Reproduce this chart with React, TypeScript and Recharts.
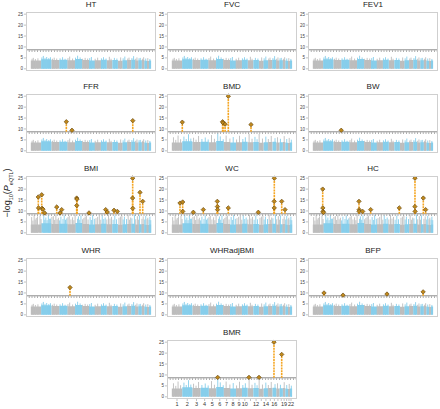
import React from "react";
import { Area, ComposedChart, ReferenceLine, Scatter, XAxis, YAxis } from "recharts";

type Hit = { pos: number; p: number };

// genome layout (Mb)
const chromosomes = ["1", "2", "3", "4", "5", "6", "7", "8", "9", "10", "11", "12", "13", "14", "15", "16", "17", "18", "19", "20", "21", "22"];
const chromLengthsMb = [249, 243, 198, 191, 181, 171, 159, 146, 141, 136, 135, 134, 115, 107, 103, 90, 81, 78, 59, 63, 48, 51];
const chromBase = [3.8, 4.4, 4.0, 4.1, 3.9, 4.5, 4.0, 3.8, 3.9, 4.1, 3.9, 4.0, 3.7, 3.9, 4.0, 4.2, 3.8, 3.9, 4.0, 3.7, 3.6, 3.8];
const xTickLabels = ["1", "2", "3", "4", "5", "6", "7", "8", "9", "10", "12", "14", "16", "19", "22"];
const yTicks = [0, 5, 10, 15, 20, 25];

// background spikes
const quietSpikes: Hit[] = [
  { pos: 30, p: 4.6 }, { pos: 60, p: 5.0 }, { pos: 110, p: 4.5 }, { pos: 170, p: 4.8 },
  { pos: 265, p: 5.2 }, { pos: 300, p: 5.9 }, { pos: 340, p: 5.0 }, { pos: 380, p: 5.4 },
  { pos: 430, p: 4.9 }, { pos: 470, p: 5.3 }, { pos: 520, p: 4.6 }, { pos: 560, p: 5.1 },
  { pos: 620, p: 4.7 }, { pos: 700, p: 4.8 }, { pos: 760, p: 5.3 }, { pos: 820, p: 4.6 },
  { pos: 890, p: 4.9 }, { pos: 930, p: 5.6 }, { pos: 1000, p: 4.7 }, { pos: 1070, p: 5.1 },
  { pos: 1120, p: 6.0 }, { pos: 1180, p: 5.2 }, { pos: 1240, p: 4.6 }, { pos: 1300, p: 5.0 },
  { pos: 1360, p: 4.7 }, { pos: 1410, p: 4.9 }, { pos: 1450, p: 5.4 }, { pos: 1540, p: 4.6 },
  { pos: 1600, p: 5.1 }, { pos: 1690, p: 4.8 }, { pos: 1740, p: 5.3 }, { pos: 1800, p: 4.7 },
  { pos: 1880, p: 5.5 }, { pos: 1920, p: 4.6 }, { pos: 2000, p: 5.0 }, { pos: 2060, p: 4.7 },
  { pos: 2150, p: 5.2 }, { pos: 2210, p: 4.8 }, { pos: 2250, p: 5.6 }, { pos: 2320, p: 4.7 },
  { pos: 2350, p: 5.1 }, { pos: 2420, p: 4.9 }, { pos: 2460, p: 5.8 }, { pos: 2510, p: 4.6 },
  { pos: 2540, p: 5.2 }, { pos: 2590, p: 4.8 }, { pos: 2620, p: 5.0 }, { pos: 2670, p: 4.6 },
  { pos: 2700, p: 5.3 }, { pos: 2750, p: 4.7 }, { pos: 2800, p: 4.9 }, { pos: 2850, p: 4.5 },
];
const midSpikes: Hit[] = [
  { pos: 40, p: 6.2 }, { pos: 95, p: 5.0 }, { pos: 150, p: 7.0 }, { pos: 210, p: 5.3 },
  { pos: 290, p: 6.5 }, { pos: 345, p: 5.4 }, { pos: 400, p: 7.6 }, { pos: 455, p: 5.6 },
  { pos: 520, p: 6.0 }, { pos: 580, p: 5.1 }, { pos: 640, p: 6.8 }, { pos: 720, p: 5.4 },
  { pos: 800, p: 6.1 }, { pos: 870, p: 5.2 }, { pos: 950, p: 7.2 }, { pos: 1020, p: 5.5 },
  { pos: 1100, p: 8.0 }, { pos: 1160, p: 6.6 }, { pos: 1230, p: 5.3 }, { pos: 1300, p: 7.0 },
  { pos: 1390, p: 5.6 }, { pos: 1470, p: 6.3 }, { pos: 1550, p: 5.2 }, { pos: 1620, p: 6.9 },
  { pos: 1700, p: 5.4 }, { pos: 1760, p: 6.2 }, { pos: 1850, p: 7.8 }, { pos: 1920, p: 5.5 },
  { pos: 1990, p: 6.4 }, { pos: 2040, p: 5.3 }, { pos: 2090, p: 7.7 }, { pos: 2170, p: 5.6 },
  { pos: 2250, p: 6.5 }, { pos: 2310, p: 5.4 }, { pos: 2380, p: 6.8 }, { pos: 2470, p: 5.8 },
  { pos: 2530, p: 6.2 }, { pos: 2600, p: 5.5 }, { pos: 2690, p: 6.7 }, { pos: 2750, p: 5.4 },
  { pos: 2810, p: 5.9 }, { pos: 2860, p: 5.1 },
];
const obesitySpikes: Hit[] = [
  { pos: 20, p: 7.2 }, { pos: 50, p: 5.6 }, { pos: 80, p: 8.1 }, { pos: 105, p: 6.1 },
  { pos: 130, p: 6.8 }, { pos: 160, p: 7.5 }, { pos: 220, p: 7.9 }, { pos: 245, p: 6.3 },
  { pos: 310, p: 8.2 }, { pos: 335, p: 6.0 }, { pos: 360, p: 7.0 }, { pos: 390, p: 5.8 },
  { pos: 420, p: 8.0 }, { pos: 445, p: 6.4 }, { pos: 470, p: 6.5 }, { pos: 505, p: 7.3 },
  { pos: 540, p: 7.6 }, { pos: 570, p: 5.9 }, { pos: 600, p: 8.1 }, { pos: 630, p: 6.2 },
  { pos: 660, p: 6.9 }, { pos: 690, p: 5.7 }, { pos: 720, p: 7.4 }, { pos: 770, p: 6.3 },
  { pos: 800, p: 8.0 }, { pos: 830, p: 6.0 }, { pos: 860, p: 6.6 }, { pos: 890, p: 7.2 },
  { pos: 920, p: 7.8 }, { pos: 960, p: 6.1 }, { pos: 1000, p: 7.1 }, { pos: 1030, p: 5.8 },
  { pos: 1060, p: 8.2 }, { pos: 1120, p: 6.4 }, { pos: 1140, p: 7.5 }, { pos: 1170, p: 6.0 },
  { pos: 1200, p: 8.0 }, { pos: 1240, p: 6.2 }, { pos: 1270, p: 6.8 }, { pos: 1300, p: 7.4 },
  { pos: 1330, p: 7.9 }, { pos: 1370, p: 6.1 }, { pos: 1420, p: 7.2 }, { pos: 1450, p: 5.9 },
  { pos: 1480, p: 8.1 }, { pos: 1520, p: 6.4 }, { pos: 1560, p: 6.7 }, { pos: 1600, p: 7.3 },
  { pos: 1640, p: 7.7 }, { pos: 1675, p: 6.0 }, { pos: 1710, p: 8.0 }, { pos: 1745, p: 6.3 },
  { pos: 1780, p: 7.0 }, { pos: 1820, p: 6.1 }, { pos: 1860, p: 8.2 }, { pos: 1895, p: 6.5 },
  { pos: 1930, p: 7.3 }, { pos: 1970, p: 6.0 }, { pos: 2010, p: 7.9 }, { pos: 2050, p: 6.2 },
  { pos: 2110, p: 6.9 }, { pos: 2145, p: 7.4 }, { pos: 2180, p: 8.0 }, { pos: 2210, p: 6.1 },
  { pos: 2240, p: 7.4 }, { pos: 2290, p: 6.3 }, { pos: 2330, p: 8.1 }, { pos: 2360, p: 6.0 },
  { pos: 2390, p: 7.0 }, { pos: 2420, p: 6.6 }, { pos: 2480, p: 8.2 }, { pos: 2510, p: 6.2 },
  { pos: 2550, p: 7.6 }, { pos: 2575, p: 6.0 }, { pos: 2600, p: 8.0 }, { pos: 2660, p: 6.4 },
  { pos: 2690, p: 7.5 }, { pos: 2725, p: 6.1 }, { pos: 2750, p: 7.8 }, { pos: 2780, p: 6.2 },
  { pos: 2800, p: 6.9 }, { pos: 2830, p: 6.0 }, { pos: 2850, p: 7.4 }, { pos: 2870, p: 5.8 },
];

// lead eQTL signals per trait (pos in cumulative Mb, -log10 P)
const htHits: Hit[] = [];
const fvcHits: Hit[] = [];
const fev1Hits: Hit[] = [];
const ffrHits: Hit[] = [{ pos: 850, p: 13.3 }, { pos: 985, p: 9.4 }, { pos: 2440, p: 13.8 }];
const bmdHits: Hit[] = [
  { pos: 251, p: 13.1 }, { pos: 1215, p: 13.3 }, { pos: 1225, p: 12.8 },
  { pos: 1275, p: 12.2 }, { pos: 1352, p: 25 }, { pos: 1895, p: 12.0 },
];
const bwHits: Hit[] = [{ pos: 680, p: 9.4 }];
const bmiHits: Hit[] = [
  { pos: 179, p: 16.4 }, { pos: 185, p: 11.4 }, { pos: 261, p: 17.4 }, { pos: 270, p: 11.2 },
  { pos: 290, p: 10.8 }, { pos: 330, p: 9.1 }, { pos: 620, p: 11.8 }, { pos: 699, p: 9.1 },
  { pos: 739, p: 10.6 }, { pos: 1098, p: 15.9 }, { pos: 1105, p: 15.4 }, { pos: 1100, p: 12.5 },
  { pos: 1393, p: 9.1 }, { pos: 1792, p: 10.6 }, { pos: 1830, p: 9.5 }, { pos: 1991, p: 10.3 },
  { pos: 2070, p: 9.8 }, { pos: 2438, p: 25 }, { pos: 2436, p: 15.9 }, { pos: 2440, p: 11.2 },
  { pos: 2613, p: 18.5 }, { pos: 2678, p: 14.4 },
];
const wcHits: Hit[] = [
  { pos: 196, p: 13.6 }, { pos: 260, p: 14.1 }, { pos: 262, p: 9.8 }, { pos: 515, p: 9.4 },
  { pos: 754, p: 10.6 }, { pos: 1089, p: 14.4 }, { pos: 1092, p: 12.0 }, { pos: 1095, p: 10.6 },
  { pos: 1352, p: 11.4 }, { pos: 2070, p: 9.4 }, { pos: 2453, p: 25 }, { pos: 2450, p: 14.4 },
  { pos: 2452, p: 11.4 }, { pos: 2630, p: 14.4 }, { pos: 2709, p: 10.6 },
];
const hcHits: Hit[] = [
  { pos: 237, p: 20 }, { pos: 240, p: 11.4 }, { pos: 245, p: 9.8 }, { pos: 255, p: 9.3 },
  { pos: 1105, p: 14.4 }, { pos: 1110, p: 10.6 }, { pos: 1108, p: 9.8 }, { pos: 1194, p: 9.8 },
  { pos: 1385, p: 10.6 }, { pos: 2070, p: 11.4 }, { pos: 2445, p: 25 }, { pos: 2443, p: 12.0 },
  { pos: 2448, p: 9.8 }, { pos: 2644, p: 15.9 }, { pos: 2700, p: 10.6 },
];
const whrHits: Hit[] = [{ pos: 938, p: 12.5 }];
const whrAdjBmiHits: Hit[] = [];
const bfpHits: Hit[] = [{ pos: 268, p: 10.0 }, { pos: 723, p: 9.0 }, { pos: 1775, p: 9.5 }, { pos: 2640, p: 10.5 }];
const bmrHits: Hit[] = [
  { pos: 1098, p: 8.9 }, { pos: 1847, p: 8.9 }, { pos: 2087, p: 8.9 },
  { pos: 2445, p: 25 }, { pos: 2630, p: 19.4 },
];

const THRESHOLD = 8.7;
const GRAY = "#BDBDBD";
const BLUE = "#87CEEB";

const chromStarts: number[] = [];
chromLengthsMb.reduce((acc, len) => {
  chromStarts.push(acc);
  return acc + len;
}, 0);
const chromMids = chromStarts.map((s, i) => s + chromLengthsMb[i] / 2);

const bgRows: Record<string, number>[] = [];
chromosomes.forEach((_, i) => {
  const key = i % 2 === 0 ? "gray" : "blue";
  bgRows.push({ pos: chromStarts[i], [key]: chromBase[i] });
  bgRows.push({ pos: chromStarts[i] + chromLengthsMb[i], [key]: chromBase[i] });
});

const chromColor = (pos: number) => {
  let idx = 0;
  chromStarts.forEach((s, i) => {
    if (pos >= s) idx = i;
  });
  return idx % 2 === 0 ? GRAY : BLUE;
};

const panels = [
  { title: "HT", hits: htHits, spikes: quietSpikes, row: 0, col: 0 },
  { title: "FVC", hits: fvcHits, spikes: quietSpikes, row: 0, col: 1 },
  { title: "FEV1", hits: fev1Hits, spikes: quietSpikes, row: 0, col: 2 },
  { title: "FFR", hits: ffrHits, spikes: quietSpikes, row: 1, col: 0 },
  { title: "BMD", hits: bmdHits, spikes: midSpikes, row: 1, col: 1 },
  { title: "BW", hits: bwHits, spikes: quietSpikes, row: 1, col: 2 },
  { title: "BMI", hits: bmiHits, spikes: obesitySpikes, row: 2, col: 0 },
  { title: "WC", hits: wcHits, spikes: obesitySpikes, row: 2, col: 1 },
  { title: "HC", hits: hcHits, spikes: obesitySpikes, row: 2, col: 2 },
  { title: "WHR", hits: whrHits, spikes: quietSpikes, row: 3, col: 0 },
  { title: "WHRadjBMI", hits: whrAdjBmiHits, spikes: quietSpikes, row: 3, col: 1 },
  { title: "BFP", hits: bfpHits, spikes: quietSpikes, row: 3, col: 2 },
  { title: "BMR", hits: bmrHits, spikes: midSpikes, row: 4, col: 1, labels: true },
];

const colLefts = [26, 167, 308];
const rowTops = [12, 94, 176, 258, 340];
const PLOT_W = 130;
const PLOT_H = 59;
const Y_AXIS_W = 21;

const Diamond = (props: any) => {
  const { cx, cy } = props;
  if (cx == null || cy == null) return <g />;
  const r = 2.2;
  return (
    <path
      d={`M${cx},${cy - r}L${cx + r},${cy}L${cx},${cy + r}L${cx - r},${cy}Z`}
      fill="#C0891C"
      stroke="#6B4C12"
      strokeWidth={0.7}
    />
  );
};

function Panel({ title, hits, spikes, row, col, labels }: any) {
  const xAxisH = labels ? 12 : 4;
  const left = colLefts[col] - Y_AXIS_W;
  const top = rowTops[row] - 1;
  return (
    <div style={{ position: "absolute", left, top }}>
      <div
        style={{
          position: "absolute",
          left: Y_AXIS_W,
          width: PLOT_W,
          top: -11,
          textAlign: "center",
          fontSize: 8,
          color: "#222",
          lineHeight: "9px",
        }}
      >
        {title}
      </div>
      <ComposedChart
        width={Y_AXIS_W + PLOT_W + 1}
        height={PLOT_H + 1 + xAxisH}
        data={bgRows}
        margin={{ top: 1, right: 1, bottom: 0, left: 0 }}
      >
        <XAxis
          type="number"
          dataKey="pos"
          domain={[-115, 2996]}
          ticks={chromMids}
          interval={0}
          height={xAxisH}
          axisLine={false}
          tickSize={2}
          tickLine={{ stroke: "#999", strokeWidth: 0.6 }}
          tickMargin={1}
          tick={labels ? { fontSize: 5.5, fill: "#333" } : false}
          tickFormatter={(_v: number, i: number) =>
            xTickLabels.includes(chromosomes[i]) ? chromosomes[i] : ""
          }
        />
        <YAxis
          type="number"
          domain={[-1, 26]}
          ticks={yTicks}
          interval={0}
          width={Y_AXIS_W}
          axisLine={false}
          tickSize={2}
          tickMargin={1}
          tickLine={{ stroke: "#999", strokeWidth: 0.6 }}
          tick={{ fontSize: 4.5, fill: "#444" }}
        />
        <Area
          dataKey="gray"
          type="linear"
          stroke="none"
          fill={GRAY}
          fillOpacity={1}
          baseValue={0}
          connectNulls={false}
          isAnimationActive={false}
        />
        <Area
          dataKey="blue"
          type="linear"
          stroke="none"
          fill={BLUE}
          fillOpacity={1}
          baseValue={0}
          connectNulls={false}
          isAnimationActive={false}
        />
        {spikes.map((s: Hit, i: number) => (
          <ReferenceLine
            key={`s${i}`}
            segment={[{ x: s.pos, y: 0 }, { x: s.pos, y: s.p }]}
            stroke={chromColor(s.pos)}
            strokeWidth={0.9}
          />
        ))}
        <ReferenceLine y={8.1} stroke="#9a9a9a" strokeWidth={1.6} strokeDasharray="0.8 2" />
        <ReferenceLine y={THRESHOLD} stroke="#8c8c8c" strokeWidth={1} />
        {hits.map((h: Hit, i: number) => (
          <ReferenceLine
            key={`h${i}`}
            segment={[{ x: h.pos, y: THRESHOLD }, { x: h.pos, y: h.p }]}
            stroke="#F5A623"
            strokeWidth={1.6}
            strokeDasharray="2 0.8"
          />
        ))}
        {hits.length > 0 && (
          <Scatter data={hits} dataKey="p" shape={Diamond} isAnimationActive={false} />
        )}
      </ComposedChart>
      <div
        style={{
          position: "absolute",
          left: Y_AXIS_W,
          top: 1,
          width: PLOT_W,
          height: PLOT_H,
          border: "1px solid #cfcfcf",
          boxSizing: "border-box",
          pointerEvents: "none",
        }}
      />
    </div>
  );
}

export default function App() {
  return (
    <div
      style={{
        position: "absolute",
        left: 0,
        top: 0,
        width: 440,
        height: 409,
        background: "#fff",
        overflow: "hidden",
        fontFamily: "'Liberation Sans', Arial, sans-serif",
      }}
    >
      {panels.map((p) => (
        <Panel key={p.title} {...p} />
      ))}
      <div
        style={{
          position: "absolute",
          left: 8,
          top: 193,
          transform: "translate(-50%, -50%) rotate(-90deg)",
          whiteSpace: "nowrap",
          fontSize: 9,
          color: "#222",
        }}
      >
        −log<sub style={{ fontSize: 5.5 }}>10</sub>(<i>P</i>
        <sub style={{ fontSize: 5.5 }}>eQTL</sub>)
      </div>
    </div>
  );
}
